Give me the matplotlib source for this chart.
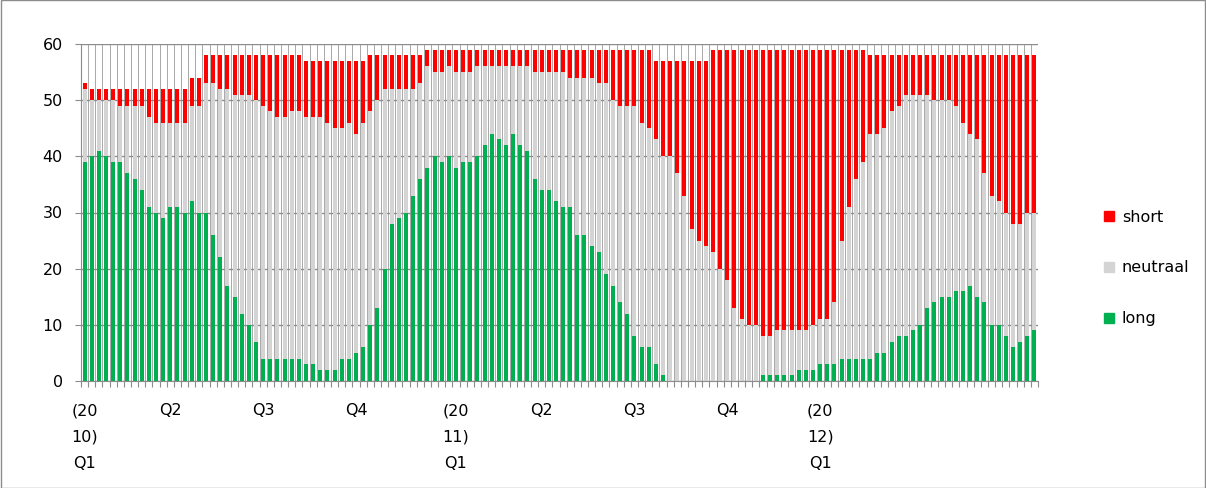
import matplotlib.pyplot as plt
from matplotlib.patches import Patch, Rectangle

# weekly sentiment counts (134 weeks)
long_cnt = [39, 40, 41, 40, 39, 39, 37, 36, 34, 31, 30, 29, 31, 31, 30, 32, 30, 30, 26,
            22, 17, 15, 12, 10, 7, 4, 4, 4, 4, 4, 4, 3, 3, 2, 2, 2, 4, 4, 5,
            6, 10, 13, 20, 28, 29, 30, 33, 36, 38, 40, 39, 40, 38, 39, 39, 40, 42, 44, 43,
            42, 44, 42, 41, 36, 34, 34, 32, 31, 31, 26, 26, 24, 23, 19, 17, 14, 12, 8,
            6, 6, 3, 1,
            0, 0, 0, 0, 0, 0, 0, 0, 0, 0, 0, 0, 0,
            1, 1, 1, 1, 1,
            2, 2, 2, 3, 3, 3, 4, 4, 4, 4, 4, 5, 5, 7, 8, 8, 9,
            10, 13, 14, 15, 15, 16, 16, 17, 15, 14, 10, 10, 8, 6, 7, 8, 9]

# top of the grey (long + neutraal) part of each bar
upto_neutraal = [52, 50, 50, 50, 50, 49, 49, 49, 49, 47, 46, 46, 46, 46, 46, 49, 49, 53, 53,
                 52, 52, 51, 51, 51, 50, 49, 48, 47, 47, 48, 48, 47, 47, 47, 46, 45, 45, 46, 44,
                 46, 48, 50, 52, 52, 52, 52, 52, 53, 56, 55, 55, 56, 55, 55, 55, 56, 56, 56, 56,
                 56, 56, 56, 56, 55, 55, 55, 55, 55, 54, 54, 54, 54, 53, 53, 50, 49, 49, 49,
                 46, 45, 43, 40, 40, 37, 33, 27, 25, 24, 23, 20, 18, 13, 11, 10, 10, 8, 8,
                 9, 9, 9, 9, 9, 10, 11, 11, 14, 25, 31, 36, 39, 44, 44, 45, 48, 49, 51, 51,
                 51, 51, 50, 50, 50, 49, 46, 44, 43, 37, 33, 32, 30, 28, 28, 30, 30]

# total number of bars (long + neutraal + short)
total_cnt = [53, 52, 52, 52, 52, 52, 52, 52, 52, 52, 52, 52, 52, 52, 52, 54, 54,
             58, 58, 58, 58, 58, 58, 58, 58, 58, 58, 58, 58, 58, 58,
             57, 57, 57, 57, 57, 57, 57, 57, 57,
             58, 58, 58, 58, 58, 58, 58, 58,
             59, 59, 59, 59, 59, 59, 59, 59, 59, 59, 59, 59, 59, 59, 59, 59,
             59, 59, 59, 59, 59, 59, 59, 59, 59, 59, 59, 59, 59, 59, 59, 59,
             57, 57, 57, 57, 57, 57, 57, 57,
             59, 59, 59, 59, 59, 59, 59, 59, 59, 59, 59, 59, 59, 59, 59, 59,
             59, 59, 59, 59, 59, 59,
             58, 58, 58, 58, 58, 58, 58, 58, 58, 58, 58, 58, 58, 58, 58, 58,
             58, 58, 58, 58, 58, 58, 58, 58]

tick_idx = [0, 12, 25, 38, 52, 64, 77, 90, 103]
tick_txt = ["(20\n10)\nQ1", "Q2", "Q3", "Q4", "(20\n11)\nQ1", "Q2", "Q3", "Q4", "(20\n12)\nQ1"]

neutraal_cnt = [u - l for u, l in zip(upto_neutraal, long_cnt)]
short_cnt = [t - u for t, u in zip(total_cnt, upto_neutraal)]

RED = "#ff0000"
GREY = "#d4d4d4"
GREEN = "#00b050"
GRID = "#8c8c8c"

plt.rcParams["font.family"] = ["DejaVu Sans"]

fig = plt.figure(figsize=(12.06, 4.88), dpi=100)
W, H = 1206, 488
ax = fig.add_axes([81 / W, 1 - 381 / H, (1038 - 81) / W, (381 - 44) / H])

x = list(range(len(long_cnt)))
bw = 0.56
ax.bar(x, long_cnt, width=bw, color=GREEN, zorder=2)
ax.bar(x, neutraal_cnt, width=bw, bottom=long_cnt, color=GREY, zorder=2)
ax.bar(x, short_cnt, width=bw, bottom=upto_neutraal, color=RED, zorder=2)

ax.set_xlim(-0.5, len(x) - 0.5)
ax.set_ylim(0, 60)
ax.set_yticks(range(0, 61, 10))
ax.yaxis.grid(True, color=GRID, lw=1.0, zorder=0)
ax.set_axisbelow(True)

# vertical grid between the weeks
for b in range(1, len(x)):
    ax.axvline(b - 0.5, color="#9a9a9a", lw=0.6, zorder=0)

ax.set_xticks(tick_idx)
ax.set_xticklabels(tick_txt, linespacing=1.95, va="top")
ax.set_xticks([b - 0.5 for b in range(len(x) + 1)], minor=True)
ax.tick_params(axis="x", which="major", length=0, pad=16, labelsize=11.5, colors="#000000")
ax.tick_params(axis="x", which="minor", length=4, color=GRID, width=0.8)
ax.tick_params(axis="y", length=4, color=GRID, labelsize=11.5, pad=9)

for s in ["top", "right"]:
    ax.spines[s].set_visible(False)
for s in ["left", "bottom"]:
    ax.spines[s].set_color(GRID)

handles = [Patch(color=RED), Patch(color=GREY), Patch(color=GREEN)]
fig.legend(handles, ["short", "neutraal", "long"], loc="center left",
           bbox_to_anchor=(1090 / W, 1 - 268 / H), frameon=False,
           handlelength=0.6, handleheight=0.6, handletextpad=0.5,
           labelspacing=2.25, fontsize=11.5)

fig.patches.append(Rectangle((0.0005, 0.001), 0.999, 0.998, transform=fig.transFigure,
                             fill=False, edgecolor="#8c8c8c", lw=1))

fig.savefig("out.png", dpi=100)
